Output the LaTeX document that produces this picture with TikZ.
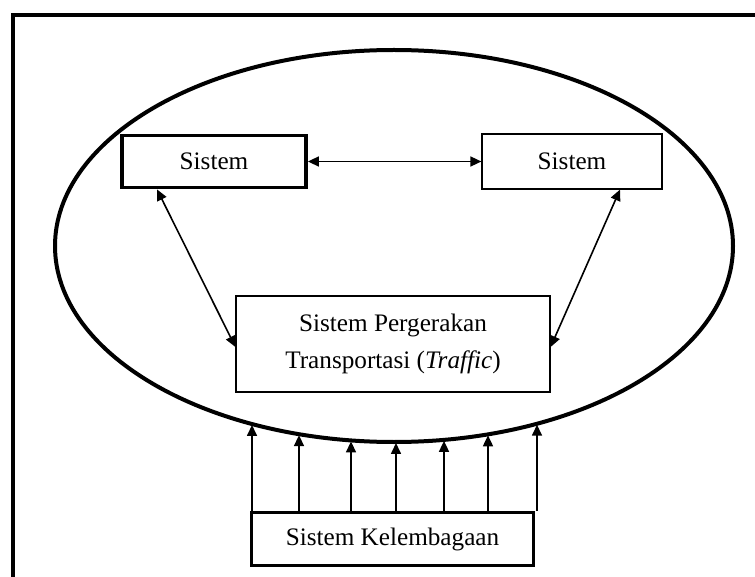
\documentclass[tikz,border=0pt]{standalone}
\usepackage{fontspec}
\setmainfont{Liberation Serif}
\usetikzlibrary{arrows.meta}

\tikzset{
    sisbox/.style={draw, align=center, inner sep=0pt, font=\fontsize{12.6}{18.5}\selectfont},
    tebal/.style={line width=1.9pt},
    panah/.style={line width=0.8pt, -{Triangle[length=5.5pt,width=5pt]}},
    duapanah/.style={line width=0.8pt, {Triangle[length=5.5pt,width=5pt]}-{Triangle[length=5.5pt,width=5pt]}}
}

\begin{document}
\begin{tikzpicture}[x=0.5pt, y=-0.5pt]
        \useasboundingbox (0,0) rectangle (755,577);
        \draw[line width=2pt] (13,600) |- (780,15);
        \draw[line width=2pt] (394,246) ellipse [x radius=169.5pt, y radius=98pt];
        \node[sisbox, tebal, minimum width=92pt, minimum height=26pt] (sisA) at (214,161.5) {Sistem};
        \node[sisbox, line width=0.6pt, minimum width=90pt, minimum height=27.5pt] (sisB) at (572,161.5) {Sistem};
        \node[sisbox, line width=0.6pt, minimum width=157pt, minimum height=48pt] (traffic) at (393,344) {Sistem Pergerakan\\Transportasi (\textit{Traffic})};
        \node[sisbox, tebal, minimum width=141pt, minimum height=26.5pt] (kelem) at (392.5,539) {Sistem Kelembagaan};
        \draw[duapanah] (sisA.east) -- (sisB.west);
        \draw[duapanah] ([xshift=-28.5pt]sisA.south) -- ([yshift=-1.5pt]traffic.west);
        \draw[duapanah] ([xshift=24pt]sisB.south) -- ([yshift=-1.5pt]traffic.east);
        \foreach \px [count=\i] in {252,299,351,396,444,488,537} {
            \pgfmathsetmacro\tipy{246+196*sqrt(1-((\px-394)/339)^2)+1}
            \coordinate (tip\i) at (\px,\tipy);
            \draw[panah] (kelem.north -| tip\i) -- (tip\i);
        }
    \end{tikzpicture}
\end{document}
